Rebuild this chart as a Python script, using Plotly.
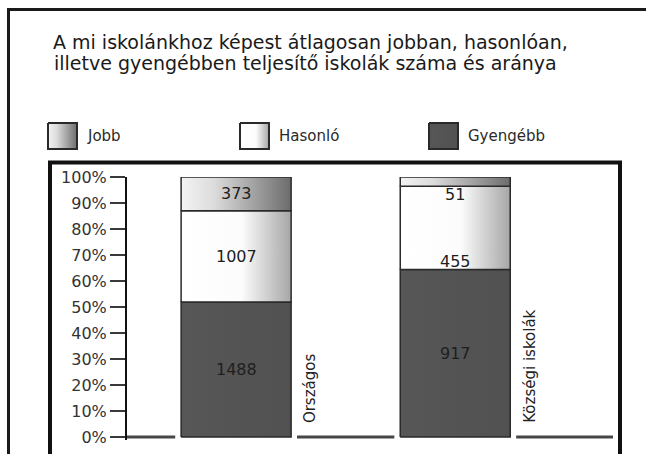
import plotly.graph_objects as go

# ---- data ----
categories = ["Országos", "Községi iskolák"]
jobb = [373, 51]
hasonlo = [1007, 455]
gyengebb = [1488, 917]
legend_names = ["Jobb", "Hasonló", "Gyengébb"]
stack_order = ["Gyengébb", "Hasonló", "Jobb"]  # bottom -> top
tick_vals = [i / 10 for i in range(11)]
tick_text = [f"{i * 10}%" for i in range(11)]
title_lines = ["A mi iskolánkhoz képest átlagosan jobban, hasonlóan,",
               "illetve gyengébben teljesítő iskolák száma és aránya"]

values = {"Jobb": jobb, "Hasonló": hasonlo, "Gyengébb": gyengebb}

# ---- style ----
W, H = 646, 454
FONT = "DejaVu Sans"
def px(x): return x / W
def py(y): return 1 - y / H

gradients = {
    "Jobb": [[0, "#f3f3f3"], [0.3, "#dcdcdc"], [1, "#6c6c6c"]],
    "Hasonló": [[0, "#ffffff"], [0.55, "#fcfcfc"], [1, "#a6a6a6"]],
    "Gyengébb": [[0, "#575757"], [1, "#515151"]],
}
half = 0.251
gap = 0.027
x_range = [-0.498, 1.72]
y_range = [-0.01, 1.0]
label_place = {(1, "Hasonló"): "bottom", (1, "Jobb"): "below"}

fig = go.Figure()
positions = list(range(len(categories)))

# baseline broken around the bars
bx, by = [x_range[0]], [0]
for p in positions:
    bx += [p - half - gap, None, p + half + gap]
    by += [0, None, 0]
bx.append(x_range[1]); by.append(0)
fig.add_trace(go.Scatter(x=bx, y=by, mode="lines", line=dict(color="#474747", width=3),
                         hoverinfo="skip", showlegend=False))

annotations = []
for i, p in enumerate(positions):
    total = sum(values[s][i] for s in stack_order)
    base = 0.0
    for s in stack_order:
        v = values[s][i]
        y0, y1 = base, base + v / total
        x0, x1 = p - half, p + half
        fig.add_trace(go.Scatter(
            x=[x0, x1, x1, x0, x0], y=[y0, y0, y1, y1, y0], mode="lines",
            fill="toself", fillgradient=dict(type="horizontal", colorscale=gradients[s]),
            line=dict(color="#2a2a2a", width=1.5), hoverinfo="skip", showlegend=False))
        place = label_place.get((i, s), "center")
        if place == "center":
            ay, anc, sh = (y0 + y1) / 2, "middle", 0
        elif place == "bottom":
            ay, anc, sh = y0, "bottom", -4
        else:  # below the segment
            ay, anc, sh = y0, "top", 3
        annotations.append(dict(x=p, y=ay, xref="x", yref="y", text=str(v), showarrow=False,
                                yanchor=anc, yshift=sh,
                                font=dict(family=FONT, size=16, color="#1e1e1e")))
        base = y1
    annotations.append(dict(x=p + half, y=0, xref="x", yref="y", text=categories[i],
                            textangle=-90, showarrow=False, xanchor="left", yanchor="bottom",
                            xshift=8, yshift=12,
                            font=dict(family=FONT, size=15, color="#222222")))

# custom legend with gradient swatches (pixel overlay axes)
sw_x = [48, 240, 429]
sw_w, sw_y0, sw_y1 = 29, 123, 149
for name, sx in zip(legend_names, sw_x):
    fig.add_trace(go.Scatter(
        x=[sx, sx + sw_w, sx + sw_w, sx, sx], y=[sw_y0, sw_y0, sw_y1, sw_y1, sw_y0],
        xaxis="x2", yaxis="y2", mode="lines", fill="toself",
        fillgradient=dict(type="horizontal", colorscale=gradients[name]),
        line=dict(color="#2a2a2a", width=2), hoverinfo="skip", showlegend=False))
    annotations.append(dict(x=px(sx + sw_w + 8), y=py(136), xref="paper", yref="paper",
                            text=name, showarrow=False, xanchor="left", yanchor="middle",
                            font=dict(family=FONT, size=15, color="#2a2a2a")))

for line, (tx, ty) in zip(title_lines, [(51, 42), (52, 63)]):
    annotations.append(dict(x=px(tx), y=py(ty), xref="paper", yref="paper",
                            text=line, showarrow=False, align="left",
                            xanchor="left", yanchor="middle",
                            font=dict(family=FONT, size=19, color="#1a1a1a")))

shapes = [
    dict(type="rect", xref="paper", yref="paper", x0=px(8.5), y0=py(9.5), x1=px(720), y1=py(560),
         line=dict(color="#1a1a1a", width=3)),
    dict(type="rect", xref="paper", yref="paper", x0=px(50), y0=py(162.5), x1=px(620), y1=py(560),
         line=dict(color="#111111", width=4)),
]

y_top_px, y_zero_px = 177, 437
per_unit = (y_zero_px - y_top_px) / 1.0
y_bottom_px = y_zero_px - y_range[0] * per_unit

fig.update_layout(
    width=W, height=H, margin=dict(l=0, r=0, t=0, b=0, pad=0),
    paper_bgcolor="white", plot_bgcolor="rgba(0,0,0,0)",
    showlegend=False,
    xaxis=dict(domain=[px(127), px(613)], range=x_range, visible=False, anchor="y",
               fixedrange=True),
    yaxis=dict(domain=[py(y_bottom_px), py(y_top_px)], range=y_range, anchor="x",
               tickvals=tick_vals, ticktext=tick_text, ticks="outside", ticklen=15,
               tickwidth=1.5, tickcolor="#3a3a3a", showline=True, linecolor="#111111",
               linewidth=2, showgrid=False, zeroline=False, automargin=False,
               tickfont=dict(family=FONT, size=16, color="#333333")),
    xaxis2=dict(domain=[0, 1], range=[0, W], visible=False, anchor="y2"),
    yaxis2=dict(domain=[0, 1], range=[H, 0], visible=False, anchor="x2"),
    annotations=annotations, shapes=shapes,
)

fig.write_html("out.html", config={"displayModeBar": False},
               post_script="document.body.style.margin='0';")
